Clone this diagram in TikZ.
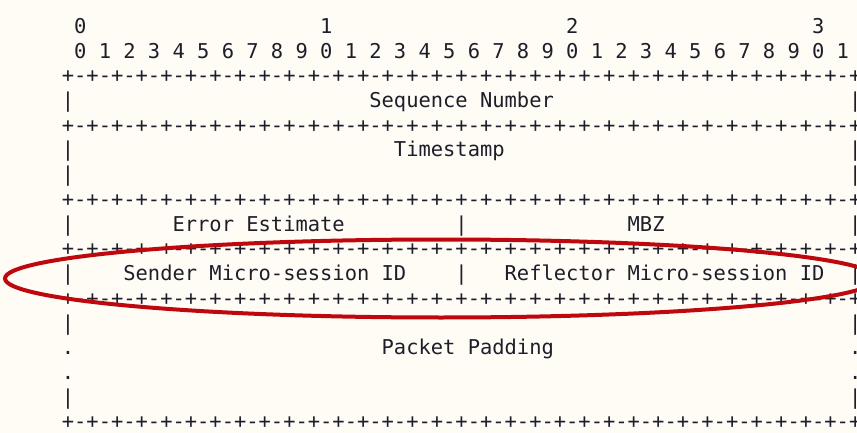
\documentclass[tikz,border=0pt]{standalone}
\usepackage{fontspec}
\newfontfamily\rowfont{DejaVu Sans Mono}
\definecolor{paper}{RGB}{255,252,246}
\definecolor{ink}{RGB}{30,30,42}
\definecolor{ringred}{RGB}{190,8,14}
% advance width of one character of the row font (0.60205 em at 20.43pt)
\newlength\cw
\setlength\cw{12.30pt}
\newcommand\gap[1]{\kern#1\cw}
% one border line of the packet layout: 32 bit cells
\newcommand\brow{+-+-+-+-+-+-+-+-+-+-+-+-+-+-+-+-+-+-+-+-+-+-+-+-+-+-+-+-+-+-+-+-+}
\tikzset{
  rowtxt/.style={anchor=base west, inner sep=0pt, outer sep=0pt, text=ink,
                 font=\rowfont\fontsize{20.43}{24}\selectfont},
  ring/.style={draw=ringred, line width=4pt}
}
\begin{document}
\begin{tikzpicture}[x=1pt,y=-1pt]
  \useasboundingbox (0,0) rectangle (857,433);
  \clip (0,0) rectangle (857,433);
  \fill[paper] (0,0) rectangle (857,433);
  \frenchspacing
  % rows of the ASCII layout, baseline pitch 24.73
  \node[rowtxt] (r1)  at (25, 33.30) {\gap{4}0\gap{19}1\gap{19}2\gap{19}3};
  \node[rowtxt] (r2)  at (25, 58.03) {\gap{4}0 1 2 3 4 5 6 7 8 9 0 1 2 3 4 5 6 7 8 9 0 1 2 3 4 5 6 7 8 9 0 1};
  \node[rowtxt] (r3)  at (25, 82.76) {\gap{3}\brow};
  \node[rowtxt] (r4)  at (25,107.49) {\gap{3}|\gap{24}Sequence Number\gap{24}|};
  \node[rowtxt] (r5)  at (25,132.22) {\gap{3}\brow};
  \node[rowtxt] (r6)  at (25,156.95) {\gap{3}|\gap{26}Timestamp\gap{28}|};
  \node[rowtxt] (r7)  at (25,181.68) {\gap{3}|\gap{63}|};
  \node[rowtxt] (r8)  at (25,206.41) {\gap{3}\brow};
  \node[rowtxt] (r9)  at (25,231.14) {\gap{3}|\gap{8}Error Estimate\gap{9}|\gap{13}MBZ\gap{15}|};
  \node[rowtxt] (r10) at (25,255.87) {\gap{3}\brow};
  \node[rowtxt] (r11) at (25,280.60) {\gap{3}|\gap{4}Sender Micro-session ID\gap{4}|\gap{3}Reflector Micro-session ID\gap{2}|};
  \node[rowtxt] (r12) at (25,305.33) {\gap{3}\brow};
  \node[rowtxt] (r13) at (25,330.06) {\gap{3}|\gap{63}|};
  \node[rowtxt] (r14) at (25,354.79) {\gap{3}.\gap{25}Packet Padding\gap{24}.};
  \node[rowtxt] (r15) at (25,379.52) {\gap{3}.\gap{63}.};
  \node[rowtxt] (r16) at (25,404.25) {\gap{3}|\gap{63}|};
  \node[rowtxt] (r17) at (25,428.98) {\gap{3}\brow};
  % highlight around the micro-session ID fields
  \coordinate (ringc) at (441,278.5);
  \draw[ring] (ringc) ellipse [x radius=436, y radius=39];
\end{tikzpicture}
\end{document}
